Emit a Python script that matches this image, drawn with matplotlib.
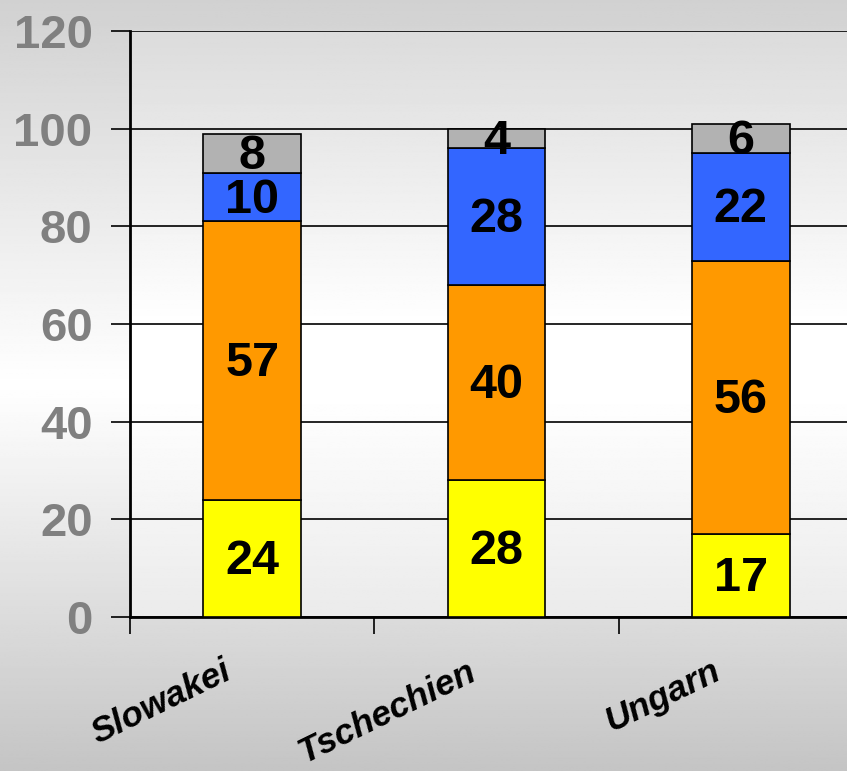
import numpy as np
import matplotlib
matplotlib.use("Agg")
import matplotlib.pyplot as plt
from matplotlib.transforms import ScaledTranslation

# Data
countries = ["Slowakei", "Tschechien", "Ungarn"]
seg_yellow = [24, 28, 17]
seg_orange = [57, 40, 56]
seg_blue = [10, 28, 22]
seg_gray = [8, 4, 6]
y_ticks = [0, 20, 40, 60, 80, 100, 120]

segments = [seg_yellow, seg_orange, seg_blue, seg_gray]
colors = ["#FFFF00", "#FF9900", "#3366FF", "#B2B2B2"]

plt.rcParams['font.family'] = ['Liberation Sans', 'DejaVu Sans']

W, H = 847, 771
fig = plt.figure(figsize=(W / 100, H / 100), dpi=100)


def vgradient(stops_pos, stops_val, n=400):
    t = np.linspace(0, 1, n)  # 0 = top, 1 = bottom
    v = np.interp(t, stops_pos, stops_val)
    return np.repeat(v[:, None], 2, axis=1)


# Figure background: gray -> white -> gray
bg = fig.add_axes([0, 0, 1, 1], zorder=-10)
bg.imshow(vgradient([0.0, 0.5, 1.0], [0.82, 1.0, 0.77]), cmap="gray",
          vmin=0, vmax=1, aspect="auto", extent=[0, 1, 0, 1])
bg.set_axis_off()

ax = fig.add_axes([130 / W, 154 / H, (863 - 130) / W, (617 - 31) / H])
ax.set_xlim(-0.5, 2.5)
ax.set_ylim(0, 120)

# Plot area background gradient
ax.imshow(vgradient([0.0, 0.5, 0.62, 1.0], [0.86, 1.0, 1.0, 0.92]), cmap="gray",
          vmin=0, vmax=1, aspect="auto", extent=[-0.5, 2.5, 0, 120], zorder=-5)

x = np.arange(len(countries))
label_shift = ScaledTranslation(0, -3 / 100, fig.dpi_scale_trans)
bottom = np.zeros(len(countries))
for vals_seg, col in zip(segments, colors):
    vals_seg = np.array(vals_seg, dtype=float)
    ax.bar(x, vals_seg, width=0.4, bottom=bottom, color=col,
           edgecolor="black", linewidth=1.2, zorder=3)
    for xi, b, v in zip(x, bottom, vals_seg):
        ax.text(xi, b + v / 2, f"{int(v)}", ha="center", va="center",
                fontsize=35, fontweight="bold", color="black", zorder=4,
                transform=ax.transData + label_shift)
    bottom += vals_seg

ax.set_xlim(-0.5, 2.5)
ax.set_ylim(0, 120)

# Grid lines and value axis
ax.set_yticks(y_ticks)
ax.set_yticklabels([str(t) for t in y_ticks], fontsize=34, fontweight="bold",
                   color="#808080")
ax.yaxis.grid(True, color="black", linewidth=1.2, zorder=0)
ax.set_axisbelow(True)
ax.tick_params(axis="y", length=14, width=1.2, pad=13, direction="out")

# Category labels and boundary ticks
ax.set_xticks(x)
ax.set_xticklabels(countries, fontsize=25.5, fontweight="bold", style="italic",
                   rotation=26, ha="right", va="top")
ax.tick_params(axis="x", which="major", length=0, pad=27)
ax.set_xticks(np.arange(-0.5, 3.0, 1.0), minor=True)
ax.tick_params(axis="x", which="minor", length=12, width=1.2, direction="out")
shift = ScaledTranslation(-15 / 100, 0, fig.dpi_scale_trans)
for lbl in ax.get_xticklabels():
    lbl.set_transform(lbl.get_transform() + shift)

for side in ["top", "right"]:
    ax.spines[side].set_visible(False)
ax.spines["left"].set_linewidth(2)
ax.spines["bottom"].set_linewidth(2)

fig.savefig("out.png", dpi=100)
